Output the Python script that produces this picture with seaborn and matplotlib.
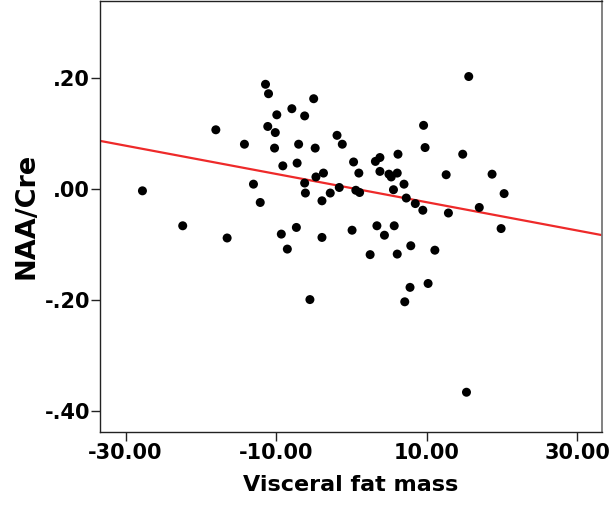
import matplotlib
matplotlib.use("Agg")
import matplotlib.pyplot as plt
import numpy as np
import pandas as pd
import seaborn as sns

# valeurs
visceral_fat = [
    -27.75, -18.0, -14.2, -11.4, -11.0, -9.9, -11.1, -10.1, -10.2, -7.9,
    -6.2, -5.0, -7.0, -4.8, -9.1, -7.2, -1.9, -1.2, -13.0, -12.1,
    -6.2, -4.7, -3.7, -6.1, -3.9, -2.8, -1.6, 0.3, -22.4, -16.5,
    -9.3, -7.3, -3.9, 0.1, -8.5, -5.5, 15.6, 9.6, 9.8, 6.2,
    14.8, 3.2, 3.8, 1.0, 3.8, 5.0, 6.1, 5.3, 12.6, 18.7,
    7.0, 20.3, 0.6, 1.1, 5.6, 7.3, 8.5, 9.5, 12.9, 17.0,
    19.9, 3.4, 5.7, 4.4, 2.5, 6.1, 7.9, 11.1, 10.2, 7.8,
    7.1, 15.3,
]
naa_cre = [
    -0.004, 0.106, 0.080, 0.188, 0.171, 0.133, 0.112, 0.101, 0.073, 0.144,
    0.131, 0.162, 0.080, 0.073, 0.041, 0.046, 0.096, 0.080, 0.008, -0.025,
    0.010, 0.021, 0.028, -0.008, -0.022, -0.008, 0.002, 0.048, -0.067, -0.089,
    -0.082, -0.070, -0.088, -0.075, -0.109, -0.200, 0.202, 0.114, 0.074, 0.062,
    0.062, 0.049, 0.056, 0.028, 0.031, 0.026, 0.028, 0.021, 0.025, 0.026,
    0.008, -0.009, -0.003, -0.007, -0.002, -0.017, -0.027, -0.039, -0.044, -0.034,
    -0.072, -0.067, -0.067, -0.084, -0.119, -0.118, -0.103, -0.111, -0.171, -0.178,
    -0.204, -0.367,
]
x_ticks = [-30, -10, 10, 30]
x_tick_labels = ["-30.00", "-10.00", "10.00", "30.00"]
y_ticks = [0.20, 0.00, -0.20, -0.40]
y_tick_labels = [".20", ".00", "-.20", "-.40"]

df = pd.DataFrame({"Visceral fat mass": visceral_fat, "NAA/Cre": naa_cre})

sns.set_style("white")
plt.rcParams["font.family"] = ["DejaVu Sans"]
plt.rcParams["text.color"] = "black"
plt.rcParams["axes.labelcolor"] = "black"
plt.rcParams["xtick.color"] = "black"
plt.rcParams["ytick.color"] = "black"

fig = plt.figure(figsize=(6.13, 5.09), dpi=100)
ax = fig.add_axes([0.163, 0.152, 0.819, 0.847])
ax.set_xlim(-33.4, 33.3)
ax.set_ylim(-0.438, 0.339)

sns.scatterplot(data=df, x="Visceral fat mass", y="NAA/Cre", ax=ax,
                color="black", s=42, edgecolor="none", zorder=3)
sns.regplot(data=df, x="Visceral fat mass", y="NAA/Cre", ax=ax, scatter=False,
            ci=None, truncate=False, line_kws=dict(color="#ee2a2a", lw=1.6, zorder=2))
ax.set_xlim(-33.4, 33.3)
ax.set_ylim(-0.438, 0.339)

ax.set_xticks(x_ticks)
ax.set_xticklabels(x_tick_labels, fontsize=15, fontweight="bold")
ax.set_yticks(y_ticks)
ax.set_yticklabels(y_tick_labels, fontsize=15, fontweight="bold")
ax.tick_params(axis="both", which="major", bottom=True, left=True,
               direction="out", length=6.5, width=1, color="#222222",
               labelcolor="black")
ax.tick_params(axis="x", pad=2)
ax.tick_params(axis="y", pad=0.5)

ax.set_xlabel("Visceral fat mass", fontsize=16, fontweight="bold", labelpad=8, color="black")
ax.set_ylabel("NAA/Cre", fontsize=19.5, fontweight="bold", labelpad=4, color="black")

for side in ["left", "bottom", "top"]:
    ax.spines[side].set_color("#222222")
    ax.spines[side].set_linewidth(1)
ax.spines["right"].set_color("#777777")
ax.spines["right"].set_linewidth(1.3)

plt.savefig("out.png", dpi=100)
plt.close()
